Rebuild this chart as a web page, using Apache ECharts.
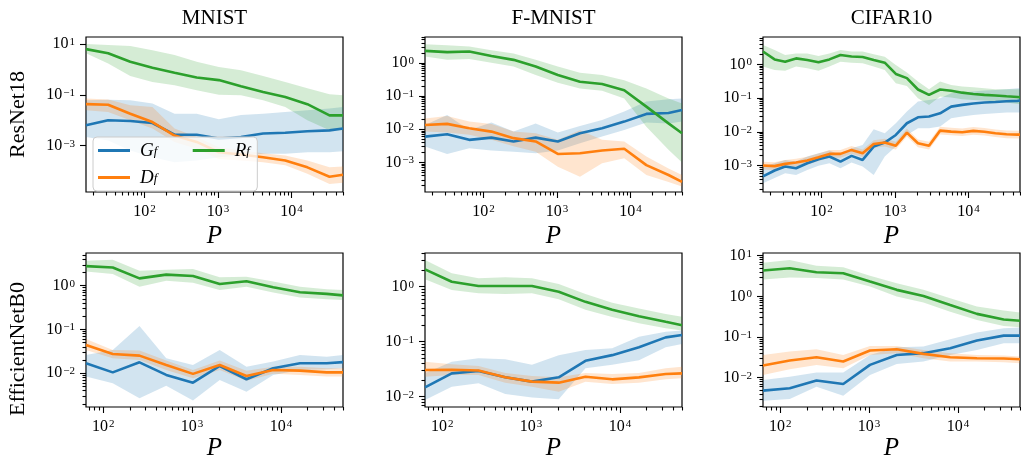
<!DOCTYPE html>
<html>
<head>
<meta charset="utf-8">
<script src="https://cdn.jsdelivr.net/npm/echarts@6/dist/echarts.min.js"></script>
<style>
  html, body { margin: 0; padding: 0; background: #fff; }
  #chart { width: 1021px; height: 466px; }
</style>
</head>
<body>
<div id="chart"></div>
<script>
// training set sizes P
const P_TOP = [16, 32, 64, 128, 256, 512, 1024, 2048, 4096, 8192, 16384, 32768, 50000];
const P_CIFAR = [16, 23, 32, 45, 64, 91, 128, 181, 256, 362, 512, 724, 1024, 1448, 2048, 2896, 4096, 5793, 8192, 11585, 16384, 23170, 32768, 46341, 50000];
const P_BOT = [64, 128, 256, 512, 1024, 2048, 4096, 8192, 16384, 32768, 50000];

// ResNet18 / MNIST
const r18_mnist_G = [0.0063, 0.01, 0.0093, 0.0078, 0.0027, 0.0027, 0.0019, 0.0022, 0.0030, 0.0032, 0.0037, 0.0040, 0.0047];
const r18_mnist_G_hi = [0.061, 0.064, 0.061, 0.046, 0.018, 0.018, 0.011, 0.016, 0.018, 0.021, 0.025, 0.029, 0.033];
const r18_mnist_G_lo = [0.0022, 0.0016, 0.00065, 0.00035, 0.00022, 0.00026, 0.00035, 0.00041, 0.00048, 0.00048, 0.00055, 0.00055, 0.0006];
const r18_mnist_D = [0.043, 0.041, 0.018, 0.0085, 0.0025, 0.0014, 0.00055, 0.00045, 0.00035, 0.00026, 0.00014, 0.00006, 0.000072];
const r18_mnist_D_hi = [0.071, 0.065, 0.039, 0.033, 0.0047, 0.0022, 0.00087, 0.00065, 0.0005, 0.00041, 0.00026, 0.00014, 0.00015];
const r18_mnist_D_lo = [0.025, 0.021, 0.01, 0.0047, 0.0014, 0.00075, 0.0003, 0.00026, 0.00022, 0.00017, 0.000078, 0.000031, 0.000035];
const r18_mnist_R = [6.3, 4.3, 2.0, 1.16, 0.74, 0.48, 0.38, 0.22, 0.13, 0.083, 0.043, 0.0156, 0.0156];
const r18_mnist_R_hi = [10, 9.2, 8.4, 5.7, 3.7, 2.0, 1.26, 0.93, 0.55, 0.32, 0.18, 0.105, 0.096];
const r18_mnist_R_lo = [4.3, 1.7, 0.55, 0.32, 0.24, 0.15, 0.10, 0.096, 0.061, 0.033, 0.01, 0.004, 0.004];

// ResNet18 / F-MNIST
const r18_fmnist_G = [0.006, 0.0071, 0.0048, 0.0056, 0.0043, 0.0056, 0.0043, 0.0076, 0.0107, 0.017, 0.029, 0.031, 0.038];
const r18_fmnist_G_hi = [0.0135, 0.027, 0.0095, 0.016, 0.0085, 0.015, 0.008, 0.0125, 0.019, 0.034, 0.068, 0.08, 0.085];
const r18_fmnist_G_lo = [0.003, 0.0018, 0.0027, 0.0023, 0.0021, 0.0019, 0.0023, 0.0038, 0.006, 0.0095, 0.016, 0.015, 0.017];
const r18_fmnist_D = [0.0135, 0.0145, 0.0107, 0.0085, 0.0054, 0.0043, 0.0018, 0.0019, 0.0023, 0.0026, 0.00083, 0.00042, 0.00026];
const r18_fmnist_D_hi = [0.021, 0.025, 0.017, 0.0145, 0.0085, 0.0076, 0.0048, 0.0093, 0.0048, 0.0043, 0.0015, 0.00066, 0.00042];
const r18_fmnist_D_lo = [0.0085, 0.008, 0.0068, 0.0048, 0.0031, 0.0021, 0.00074, 0.00037, 0.00095, 0.00135, 0.00042, 0.00026, 0.00019];
const r18_fmnist_R = [2.3, 2.1, 2.2, 1.6, 1.23, 0.78, 0.43, 0.27, 0.23, 0.15, 0.048, 0.015, 0.0076];
const r18_fmnist_R_hi = [3.6, 3.4, 3.1, 2.4, 1.9, 1.23, 0.78, 0.5, 0.43, 0.3, 0.17, 0.085, 0.06];
const r18_fmnist_R_lo = [1.55, 1.23, 1.3, 1.0, 0.78, 0.43, 0.25, 0.17, 0.145, 0.085, 0.012, 0.0024, 0.001];

// ResNet18 / CIFAR10
const r18_cifar_G = [0.00048, 0.00072, 0.00094, 0.00084, 0.00118, 0.00155, 0.00186, 0.00132, 0.00195, 0.00148, 0.00368, 0.00483, 0.0081, 0.018, 0.027, 0.0284, 0.0356, 0.056, 0.063, 0.069, 0.074, 0.077, 0.081, 0.083, 0.085];
const r18_cifar_G_hi = [0.00094, 0.00118, 0.00148, 0.00132, 0.00186, 0.00234, 0.0028, 0.00208, 0.00328, 0.0041, 0.012, 0.0091, 0.018, 0.04, 0.079, 0.088, 0.099, 0.139, 0.146, 0.156, 0.167, 0.175, 0.183, 0.196, 0.196];
const r18_cifar_G_lo = [0.0003, 0.00043, 0.0006, 0.00053, 0.00075, 0.00099, 0.00118, 0.00084, 0.00124, 0.00094, 0.00053, 0.00186, 0.00368, 0.0081, 0.0128, 0.0128, 0.0144, 0.0254, 0.0284, 0.0318, 0.034, 0.0356, 0.0373, 0.0373, 0.0373];
const r18_cifar_D = [0.00101, 0.00097, 0.00113, 0.00124, 0.00142, 0.00178, 0.00223, 0.00223, 0.00293, 0.00234, 0.0044, 0.00483, 0.0039, 0.0095, 0.0046, 0.0039, 0.0109, 0.0102, 0.0098, 0.0107, 0.0101, 0.0091, 0.0085, 0.0083, 0.0083];
const r18_cifar_D_hi = [0.0013, 0.00126, 0.00147, 0.00161, 0.00185, 0.0023, 0.0029, 0.0029, 0.0038, 0.003, 0.0057, 0.0063, 0.0051, 0.0124, 0.006, 0.0051, 0.0142, 0.0133, 0.0127, 0.0139, 0.0131, 0.0118, 0.011, 0.0108, 0.0108];
const r18_cifar_D_lo = [0.00078, 0.00075, 0.00087, 0.00095, 0.00109, 0.00137, 0.00172, 0.00172, 0.00226, 0.0018, 0.0034, 0.0037, 0.003, 0.0073, 0.0035, 0.003, 0.0084, 0.0079, 0.0075, 0.0082, 0.0078, 0.007, 0.0065, 0.0064, 0.0064];
const r18_cifar_R = [2.4, 1.4, 1.2, 1.5, 1.35, 1.15, 1.4, 1.9, 1.7, 1.65, 1.35, 1.12, 0.52, 0.39, 0.18, 0.125, 0.18, 0.166, 0.145, 0.133, 0.125, 0.119, 0.113, 0.108, 0.106];
const r18_cifar_R_hi = [3.75, 2.67, 1.9, 2.1, 2.1, 1.77, 2.1, 2.67, 2.4, 2.4, 2.0, 1.69, 0.96, 0.57, 0.31, 0.183, 0.31, 0.245, 0.22, 0.21, 0.196, 0.183, 0.183, 0.183, 0.183];
const r18_cifar_R_lo = [0.86, 0.68, 0.65, 0.86, 0.76, 0.65, 0.86, 1.2, 1.12, 1.07, 0.86, 0.68, 0.275, 0.23, 0.099, 0.063, 0.111, 0.104, 0.092, 0.088, 0.085, 0.079, 0.074, 0.067, 0.067];

// EfficientNetB0 / MNIST
const eff_mnist_G = [0.0169, 0.0105, 0.0178, 0.0092, 0.0061, 0.0147, 0.0073, 0.013, 0.0169, 0.0169, 0.018];
const eff_mnist_G_hi = [0.026, 0.034, 0.12, 0.022, 0.0155, 0.034, 0.0142, 0.0185, 0.026, 0.024, 0.026];
const eff_mnist_G_lo = [0.0084, 0.0059, 0.0027, 0.0052, 0.0024, 0.007, 0.0038, 0.0092, 0.0119, 0.0123, 0.013];
const eff_mnist_D = [0.0444, 0.0276, 0.0253, 0.0155, 0.0097, 0.0155, 0.0087, 0.0119, 0.0115, 0.0105, 0.0105];
const eff_mnist_D_hi = [0.061, 0.034, 0.033, 0.0195, 0.0119, 0.0195, 0.0115, 0.0142, 0.0142, 0.013, 0.013];
const eff_mnist_D_lo = [0.034, 0.022, 0.02, 0.0119, 0.0077, 0.0119, 0.0068, 0.0097, 0.0092, 0.0084, 0.0084];
const eff_mnist_R = [2.8, 2.6, 1.47, 1.79, 1.67, 1.09, 1.26, 0.92, 0.71, 0.65, 0.6];
const eff_mnist_R_hi = [3.7, 3.9, 2.2, 2.3, 2.4, 1.55, 1.6, 1.24, 0.95, 0.83, 0.8];
const eff_mnist_R_lo = [2.1, 1.85, 0.95, 1.3, 1.17, 0.8, 0.95, 0.7, 0.54, 0.49, 0.47];

// EfficientNetB0 / F-MNIST
const eff_fmnist_G = [0.0148, 0.0266, 0.0293, 0.0225, 0.0188, 0.0225, 0.045, 0.057, 0.079, 0.12, 0.132];
const eff_fmnist_G_hi = [0.0266, 0.043, 0.05, 0.048, 0.038, 0.057, 0.071, 0.076, 0.123, 0.152, 0.16];
const eff_fmnist_G_lo = [0.0087, 0.0152, 0.0175, 0.0112, 0.0097, 0.009, 0.033, 0.038, 0.046, 0.079, 0.091];
const eff_fmnist_D = [0.0305, 0.031, 0.03, 0.0225, 0.0188, 0.018, 0.0231, 0.0207, 0.0225, 0.0259, 0.0266];
const eff_fmnist_D_hi = [0.043, 0.039, 0.036, 0.027, 0.0238, 0.0225, 0.027, 0.026, 0.027, 0.033, 0.035];
const eff_fmnist_D_lo = [0.0231, 0.0248, 0.0248, 0.018, 0.0152, 0.0123, 0.0188, 0.017, 0.018, 0.0207, 0.0216];
const eff_fmnist_R = [2.07, 1.23, 1.03, 1.03, 1.03, 0.81, 0.53, 0.38, 0.29, 0.23, 0.2];
const eff_fmnist_R_hi = [3.06, 1.75, 1.42, 1.48, 1.42, 1.12, 0.74, 0.51, 0.4, 0.32, 0.285];
const eff_fmnist_R_lo = [1.36, 0.87, 0.76, 0.74, 0.76, 0.59, 0.38, 0.28, 0.216, 0.175, 0.16];

// EfficientNetB0 / CIFAR10
const eff_cifar_G = [0.0048, 0.0055, 0.0085, 0.007, 0.0206, 0.036, 0.04, 0.053, 0.082, 0.108, 0.108];
const eff_cifar_G_hi = [0.0088, 0.0106, 0.0133, 0.0133, 0.036, 0.056, 0.058, 0.088, 0.128, 0.164, 0.172];
const eff_cifar_G_lo = [0.0027, 0.003, 0.006, 0.0036, 0.0117, 0.0218, 0.0249, 0.036, 0.048, 0.07, 0.07];
const eff_cifar_D = [0.0198, 0.0263, 0.0318, 0.0249, 0.0464, 0.05, 0.0384, 0.0318, 0.03, 0.0295, 0.0284];
const eff_cifar_D_hi = [0.036, 0.0437, 0.05, 0.036, 0.06, 0.06, 0.048, 0.04, 0.036, 0.035, 0.033];
const eff_cifar_D_lo = [0.0117, 0.0161, 0.0206, 0.017, 0.036, 0.04, 0.03, 0.0249, 0.0249, 0.024, 0.0226];
const eff_cifar_R = [4.3, 4.9, 3.9, 3.7, 2.3, 1.44, 1.02, 0.61, 0.37, 0.27, 0.25];
const eff_cifar_R_hi = [6.7, 7.8, 5.6, 5.2, 3.2, 2.1, 1.44, 0.9, 0.56, 0.45, 0.4];
const eff_cifar_R_lo = [2.6, 2.9, 2.8, 2.6, 1.73, 0.99, 0.7, 0.42, 0.26, 0.187, 0.173];

// tick values
const X_MAJOR = [100, 1000, 10000];
const Y_MAJOR_ODD = [0.001, 0.1, 10];
const Y_MAJOR = [0.001, 0.01, 0.1, 1, 10];

const FONT = '"Liberation Serif", "DejaVu Serif", serif';
const C_G = '#1f77b4', C_D = '#ff7f0e', C_R = '#2ca02c';
const BAND_G = 'rgba(31,119,180,0.2)', BAND_D = 'rgba(255,127,14,0.2)', BAND_R = 'rgba(44,160,44,0.2)';

// one entry per subplot
const panels = [
  { P: P_TOP, xmin: 16, ymin: 1.5e-5, ymax: 18.9, yMajor: Y_MAJOR_ODD, yMinor: false,
    G: [r18_mnist_G, r18_mnist_G_lo, r18_mnist_G_hi], D: [r18_mnist_D, r18_mnist_D_lo, r18_mnist_D_hi], R: [r18_mnist_R, r18_mnist_R_lo, r18_mnist_R_hi],
    left: 86, top: 37, height: 155, pGap: 32, title: 'MNIST', ylabel: 'ResNet18', yShift: 0 },
  { P: P_TOP, xmin: 16, ymin: 1.29e-4, ymax: 6.0, yMajor: Y_MAJOR, yMinor: true,
    G: [r18_fmnist_G, r18_fmnist_G_lo, r18_fmnist_G_hi], D: [r18_fmnist_D, r18_fmnist_D_lo, r18_fmnist_D_hi], R: [r18_fmnist_R, r18_fmnist_R_lo, r18_fmnist_R_hi],
    left: 425, top: 37, height: 155, pGap: 32, title: 'F-MNIST' },
  { P: P_CIFAR, xmin: 16, ymin: 1.66e-4, ymax: 6.45, yMajor: Y_MAJOR, yMinor: true,
    G: [r18_cifar_G, r18_cifar_G_lo, r18_cifar_G_hi], D: [r18_cifar_D, r18_cifar_D_lo, r18_cifar_D_hi], R: [r18_cifar_R, r18_cifar_R_lo, r18_cifar_R_hi],
    left: 763, top: 37, height: 155, pGap: 32, title: 'CIFAR10' },
  { P: P_BOT, xmin: 64, ymin: 1.7e-3, ymax: 5.58, yMajor: Y_MAJOR, yMinor: true,
    G: [eff_mnist_G, eff_mnist_G_lo, eff_mnist_G_hi], D: [eff_mnist_D, eff_mnist_D_lo, eff_mnist_D_hi], R: [eff_mnist_R, eff_mnist_R_lo, eff_mnist_R_hi],
    left: 86, top: 253, height: 154, pGap: 29, ylabel: 'EfficientNetB0', yShift: 38 },
  { P: P_BOT, xmin: 64, ymin: 6.5e-3, ymax: 4.1, yMajor: Y_MAJOR, yMinor: true,
    G: [eff_fmnist_G, eff_fmnist_G_lo, eff_fmnist_G_hi], D: [eff_fmnist_D, eff_fmnist_D_lo, eff_fmnist_D_hi], R: [eff_fmnist_R, eff_fmnist_R_lo, eff_fmnist_R_hi],
    left: 425, top: 253, height: 154, pGap: 29 },
  { P: P_BOT, xmin: 64, ymin: 1.9e-3, ymax: 11.6, yMajor: Y_MAJOR, yMinor: true,
    G: [eff_cifar_G, eff_cifar_G_lo, eff_cifar_G_hi], D: [eff_cifar_D, eff_cifar_D_lo, eff_cifar_D_hi], R: [eff_cifar_R, eff_cifar_R_lo, eff_cifar_R_hi],
    left: 763, top: 253, height: 154, pGap: 29 }
];
const X_MAX = 50000;
const PANEL_W = 257;

// 2..9 x 10^k inside [lo, hi]
function minorTicks(lo, hi) {
  const out = [];
  for (let e = -6; e <= 5; e++) {
    for (let k = 2; k <= 9; k++) {
      const v = k * Math.pow(10, e);
      if (v >= lo && v <= hi) out.push(v);
    }
  }
  return out;
}

function powLabel(v) {
  const e = Math.round(Math.log10(v));
  return '{b|10}{s|' + (e < 0 ? '\u2212' + (-e) : e) + '}';
}

const TICK_RICH = {
  b: { fontFamily: FONT, fontSize: 16, lineHeight: 15, color: '#000' },
  s: { fontFamily: FONT, fontSize: 11, lineHeight: 4, verticalAlign: 'top', padding: [0, 0, 0, 1], color: '#000' }
};
const TICK_LINE = { color: '#000', width: 1.1 };

const grid = [], xAxis = [], yAxis = [], series = [], title = [];

panels.forEach(function (p, g) {
  grid.push({ left: p.left, top: p.top, width: PANEL_W, height: p.height, show: true,
    borderColor: '#000', borderWidth: 1.2, backgroundColor: 'transparent' });

  if (p.title) {
    title.push({ text: p.title, left: p.left + PANEL_W / 2, top: 8, textAlign: 'center', padding: 0,
      textStyle: { fontFamily: FONT, fontSize: 21, fontWeight: 'normal', color: '#000' } });
  }

  // major + minor x axis
  xAxis.push({ type: 'log', gridIndex: g, min: p.xmin, max: X_MAX, position: 'bottom',
    axisLine: { show: false }, splitLine: { show: false },
    axisTick: { customValues: X_MAJOR, length: 6, lineStyle: TICK_LINE },
    axisLabel: { customValues: X_MAJOR, formatter: powLabel, margin: 12, rich: TICK_RICH },
    name: 'P', nameLocation: 'middle', nameGap: p.pGap,
    nameTextStyle: { fontFamily: FONT, fontStyle: 'italic', fontSize: 25, color: '#000' } });
  xAxis.push({ type: 'log', gridIndex: g, min: p.xmin, max: X_MAX, position: 'bottom',
    axisLine: { show: false }, splitLine: { show: false },
    axisTick: { customValues: minorTicks(p.xmin, X_MAX), length: 3.5, lineStyle: TICK_LINE },
    axisLabel: { show: false } });

  // major + minor y axis
  const ya = { type: 'log', gridIndex: g, min: p.ymin, max: p.ymax, position: 'left',
    axisLine: { show: false }, splitLine: { show: false },
    axisTick: { customValues: p.yMajor, length: 6, lineStyle: TICK_LINE },
    axisLabel: { customValues: p.yMajor, formatter: powLabel, margin: 11, rich: TICK_RICH } };
  if (p.ylabel) {
    ya.name = p.ylabel;
    ya.nameLocation = 'middle';
    ya.nameRotate = 90;
    ya.nameGap = 57;
    ya.nameTextStyle = { fontFamily: FONT, fontSize: 22, color: '#000', padding: [0, p.yShift, 0, 0] };
  }
  yAxis.push(ya);
  yAxis.push({ type: 'log', gridIndex: g, min: p.ymin, max: p.ymax, position: 'left',
    axisLine: { show: false }, splitLine: { show: false },
    axisTick: { show: p.yMinor, customValues: p.yMinor ? minorTicks(p.ymin, p.ymax) : [], length: 3.5, lineStyle: TICK_LINE },
    axisLabel: { show: false } });

  const ax = 2 * g;
  [['G', p.G, C_G, BAND_G], ['D', p.D, C_D, BAND_D], ['R', p.R, C_R, BAND_R]].forEach(function (s) {
    const xs = p.P, mid = s[1][0], lo = s[1][1], hi = s[1][2];
    // shaded band between lo and hi
    series.push({
      type: 'custom', xAxisIndex: ax, yAxisIndex: ax, silent: true, clip: true, z: 1,
      data: xs.map(function (x, i) { return [x, lo[i], hi[i]]; }),
      encode: { x: 0, y: [1, 2] },
      renderItem: function (params, api) {
        if (params.dataIndexInside !== 0) return;
        const pts = [];
        for (let i = 0; i < xs.length; i++) pts.push(api.coord([xs[i], hi[i]]));
        for (let i = xs.length - 1; i >= 0; i--) pts.push(api.coord([xs[i], lo[i]]));
        return { type: 'polygon', shape: { points: pts }, style: { fill: s[3] } };
      }
    });
    series.push({
      name: s[0], type: 'line', xAxisIndex: ax, yAxisIndex: ax, silent: true, z: 3,
      showSymbol: false, symbol: 'none',
      data: xs.map(function (x, i) { return [x, mid[i]]; }),
      lineStyle: { width: 2.6, color: s[2] }, itemStyle: { color: s[2] }
    });
  });
});

const chart = echarts.init(document.getElementById('chart'));
chart.setOption({
  animation: false,
  backgroundColor: '#fff',
  title: title,
  grid: grid,
  xAxis: xAxis,
  yAxis: yAxis,
  legend: {
    data: ['G', 'R', 'D'],
    left: 93, top: 137, width: 160,
    orient: 'horizontal',
    icon: 'rect', itemWidth: 32, itemHeight: 3, itemGap: 8,
    padding: [4, 5, 4, 5],
    backgroundColor: 'rgba(255,255,255,0.8)',
    borderColor: '#cccccc', borderWidth: 1, borderRadius: 4,
    selectedMode: false,
    formatter: function (name) {
      return name === 'R' ? '{i|R}{se|f}' : '{i|' + name + '}{sw|f}';
    },
    textStyle: {
      rich: {
        i: { fontFamily: FONT, fontStyle: 'italic', fontSize: 19, lineHeight: 15, padding: [0, 0, 0, 5], color: '#000' },
        sw: { fontFamily: FONT, fontStyle: 'italic', fontSize: 13, lineHeight: 4, width: 31, verticalAlign: 'bottom', color: '#000' },
        se: { fontFamily: FONT, fontStyle: 'italic', fontSize: 13, lineHeight: 4, width: 6, verticalAlign: 'bottom', color: '#000' }
      }
    }
  },
  series: series
});
</script>
</body>
</html>
